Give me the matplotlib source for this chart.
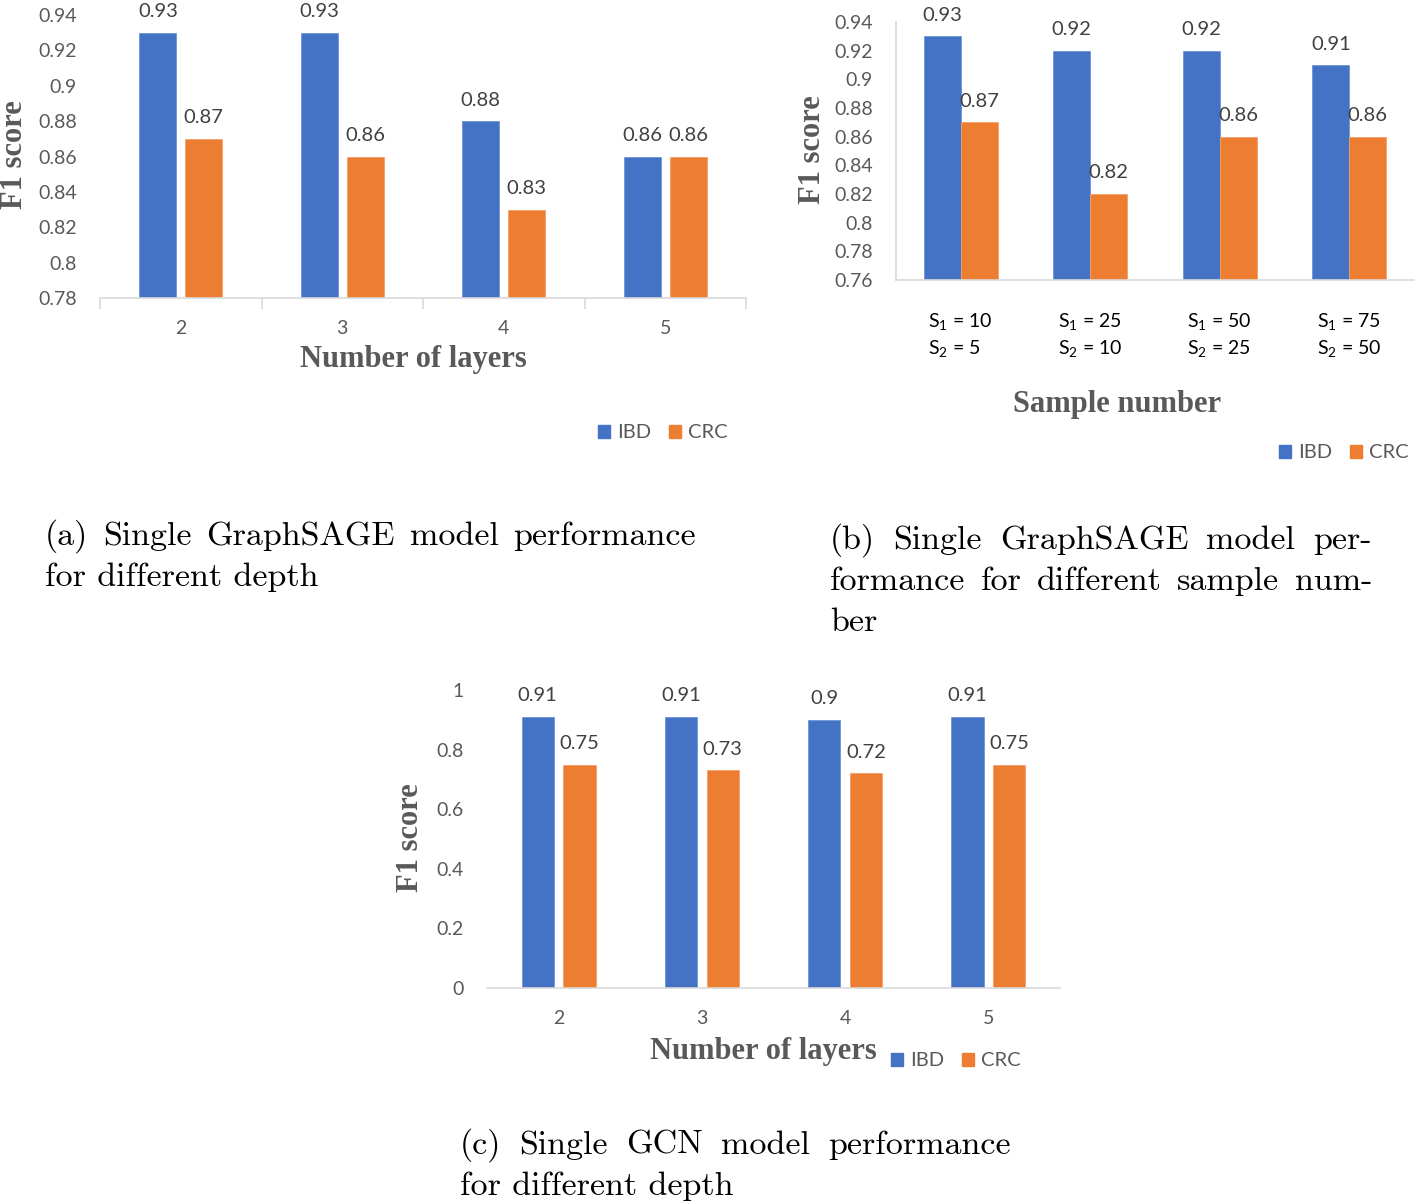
import matplotlib
matplotlib.use("Agg")
import matplotlib.pyplot as plt
from matplotlib.patches import Patch
from matplotlib.ticker import FuncFormatter, FixedLocator
import numpy as np

W, H = 1416, 1202

# data
layers = ["2", "3", "4", "5"]
sage_depth_ibd = [0.93, 0.93, 0.88, 0.86]
sage_depth_crc = [0.87, 0.86, 0.83, 0.86]

samples = ["S$_1$ = 10\nS$_2$ = 5", "S$_1$ = 25\nS$_2$ = 10",
           "S$_1$ = 50\nS$_2$ = 25", "S$_1$ = 75\nS$_2$ = 50"]
sage_sample_ibd = [0.93, 0.92, 0.92, 0.91]
sage_sample_crc = [0.87, 0.82, 0.86, 0.86]

gcn_ibd = [0.91, 0.91, 0.90, 0.91]
gcn_crc = [0.75, 0.73, 0.72, 0.75]

BLUE = "#4472C4"
ORANGE = "#ED7D31"
GREY = "#595959"
SPINE = "#D9D9D9"
TICKFONT = "Lato"
LABFONT = "Liberation Serif"

plt.rcParams["mathtext.default"] = "regular"

fig = plt.figure(figsize=(W / 100, H / 100), dpi=100)


def px(x, y):
    return x / W, 1 - y / H


def box(l, r, t, b):
    return [l / W, 1 - b / H, (r - l) / W, (b - t) / H]


def bars(ax, ibd, crc, width, off, pad):
    x = np.arange(len(ibd))
    b1 = ax.bar(x - off, ibd, width, color=BLUE, edgecolor="#6d93d8", linewidth=0.6)
    b2 = ax.bar(x + off, crc, width, color=ORANGE, edgecolor="#f4a06a", linewidth=0.6)
    for b in (b1, b2):
        ax.bar_label(b, labels=[f"{v:g}" for v in b.datavalues], padding=pad,
                     fontsize=14.5, color="#404040", family=TICKFONT)
    ax.set_xlim(-0.5, len(ibd) - 0.5)
    ax.set_xticks(x)
    ax.yaxis.set_major_formatter(FuncFormatter(lambda v, p: f"{v:g}"))
    ax.tick_params(axis="both", length=0, labelsize=14, labelcolor=GREY)
    ax.tick_params(axis="y", pad=16.5)
    for lab in ax.get_xticklabels() + ax.get_yticklabels():
        lab.set_family(TICKFONT)
    for s in ["top", "right", "left"]:
        ax.spines[s].set_visible(False)
    ax.spines["bottom"].set_color(SPINE)
    ax.spines["bottom"].set_linewidth(1.2)


def legend(cx, cy):
    h = [Patch(color=BLUE), Patch(color=ORANGE)]
    lg = fig.legend(h, ["IBD", "CRC"], loc="center", bbox_to_anchor=px(cx, cy),
                    ncol=2, frameon=False, handlelength=0.6, handleheight=0.6,
                    handletextpad=0.35, columnspacing=0.9,
                    prop={"family": TICKFONT, "size": 14.5})
    for t in lg.get_texts():
        t.set_color(GREY)


def axlabel(x, y, s, rot=0):
    fig.text(*px(x, y), s, ha="center", va="center", rotation=rot,
             fontsize=22, fontweight="bold", family=LABFONT, color=GREY)


# (a) GraphSAGE, depth
ax = fig.add_axes(box(100, 746, 15, 298))
bars(ax, sage_depth_ibd, sage_depth_crc, 0.23, 0.142, 9)
ax.set_ylim(0.78, 0.94)
ax.set_yticks(np.arange(0.78, 0.9401, 0.02))
ax.set_xticklabels(layers)
ax.tick_params(axis="x", pad=16)
ax.xaxis.set_minor_locator(FixedLocator(np.arange(-0.5, 4, 1)))
ax.tick_params(axis="x", which="minor", length=8, color=SPINE, width=1.2)
axlabel(14, 155, "F1 score", 90)
axlabel(413, 360, "Number of layers")
legend(663, 433)

# (b) GraphSAGE, sample number
ax = fig.add_axes(box(896, 1414, 22, 280))
bars(ax, sage_sample_ibd, sage_sample_crc, 0.285, 0.1425, 9)
ax.set_ylim(0.76, 0.94)
ax.set_yticks(np.arange(0.76, 0.9401, 0.02))
ax.set_xticklabels(samples, color="black", linespacing=1.4, multialignment="left")
ax.tick_params(axis="x", pad=22, labelcolor="black")
ax.spines["left"].set_visible(True)
ax.spines["left"].set_color(SPINE)
ax.spines["left"].set_linewidth(1.2)
axlabel(813, 150, "F1 score", 90)
axlabel(1117, 405, "Sample number")
legend(1344, 453)

# (c) GCN, depth
ax = fig.add_axes(box(487, 1060, 690, 988))
bars(ax, gcn_ibd, gcn_crc, 0.226, 0.146, 9)
ax.set_ylim(0, 1)
ax.set_yticks(np.arange(0, 1.01, 0.2))
ax.set_xticklabels(layers)
ax.tick_params(axis="x", pad=16)
axlabel(410, 838, "F1 score", 90)
axlabel(763, 1051, "Number of layers")
legend(956, 1061)

# captions
CAP = 24.5
renderer = fig.canvas.get_renderer()


def justified(line, x0, x1, y):
    words = line.split()
    texts = [fig.text(0, 0, w, fontsize=CAP, family="cmr10", va="baseline")
             for w in words]
    widths = [t.get_window_extent(renderer).width for t in texts]
    gap = (x1 - x0 - sum(widths)) / (len(words) - 1)
    x = x0
    for t, w in zip(texts, widths):
        t.set_position(px(x, y))
        x += w + gap


def plain(line, x, y):
    fig.text(*px(x, y), line, fontsize=CAP, family="cmr10", va="baseline")


justified("(a) Single GraphSAGE model performance", 45, 696, 545)
plain("for different depth", 45, 586)

justified("(b) Single GraphSAGE model per-", 830, 1372, 549)
justified("formance for different sample num-", 830, 1372, 590)
plain("ber", 830, 631)

justified("(c) Single GCN model performance", 460, 1011, 1154)
plain("for different depth", 460, 1195)

fig.savefig("out.png", dpi=100)
